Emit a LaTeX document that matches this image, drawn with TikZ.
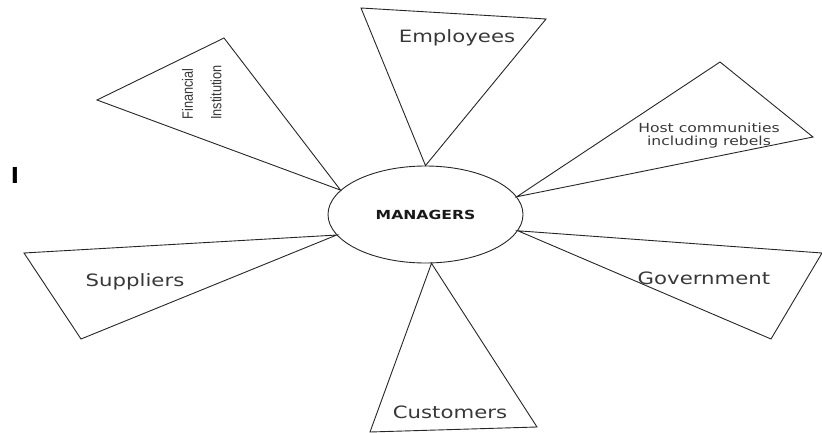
\documentclass[tikz,border=0pt]{standalone}
\usepackage{fontspec}
\setmainfont{DejaVu Sans}
\newfontfamily\widesans[FakeStretch=1.25]{DejaVu Sans}
\newfontfamily\narrowsans[FakeStretch=0.85]{Liberation Sans}
\usetikzlibrary{shapes.geometric}

\begin{document}
\begin{tikzpicture}[x=1pt,y=-1pt,
  edge/.style={draw=black!85, line width=0.9pt, line join=miter},
  lbl/.style={text=black!78, inner sep=0pt, font=\widesans\fontsize{17}{20}\selectfont},
  smalllbl/.style={text=black!78, inner sep=0pt, align=center, font=\widesans\fontsize{12.5}{13}\selectfont},
  vlbl/.style={text=black!78, inner sep=0pt, rotate=90, font=\narrowsans\fontsize{15}{18}\selectfont},
  hub/.style={ellipse, draw=black!85, line width=0.9pt, minimum width=195pt, minimum height=97pt,
    inner sep=0pt, text=black!90, font=\widesans\bfseries\fontsize{12.5}{15}\selectfont}
  ]
\useasboundingbox (0,0) rectangle (822,433);

% central stakeholder
\node[hub] (mgr) at (425.5,214.5) {MANAGERS};

% outer corners of the stakeholder wedges
\coordinate (fin1) at (97,100);
\coordinate (fin2) at (224,38);
\coordinate (emp1) at (361,8);
\coordinate (emp2) at (546,19);
\coordinate (host1) at (720,62);
\coordinate (host2) at (813,137);
\coordinate (gov1) at (822,253);
\coordinate (gov2) at (771,339);
\coordinate (sup1) at (24,253);
\coordinate (sup2) at (81,339);
\coordinate (cus1) at (370,432);
\coordinate (cus2) at (537,427);

% wedges radiating from the ellipse
\draw[edge] (mgr.164) -- (fin1) -- (fin2) -- cycle;
\draw[edge] (mgr.north) -- (emp1) -- (emp2) -- cycle;
\draw[edge] (mgr.11) -- (host1) -- (host2) -- cycle;
\draw[edge] (mgr.-10) -- (gov1) -- (gov2) -- cycle;
\draw[edge] (mgr.193) -- (sup1) -- (sup2) -- cycle;
\draw[edge] (mgr.277) -- (cus1) -- (cus2) -- cycle;

% labels
\node[vlbl] (fin) at (187.5,94) {Financial};
\node[vlbl] (inst) at (216,92.5) {Institution};
\node[lbl] (emp) at (457,38) {Employees};
\node[smalllbl] (host) at (709,135.5) {Host communities\\including rebels};
\node[lbl] (gov) at (704,278) {Government};
\node[lbl] (sup) at (135,282) {Suppliers};
\node[lbl] (cus) at (450,412) {Customers};

\node[inner sep=0pt, font=\bfseries\fontsize{22}{24}\selectfont] (mark) at (15,175) {I};
\end{tikzpicture}
\end{document}
